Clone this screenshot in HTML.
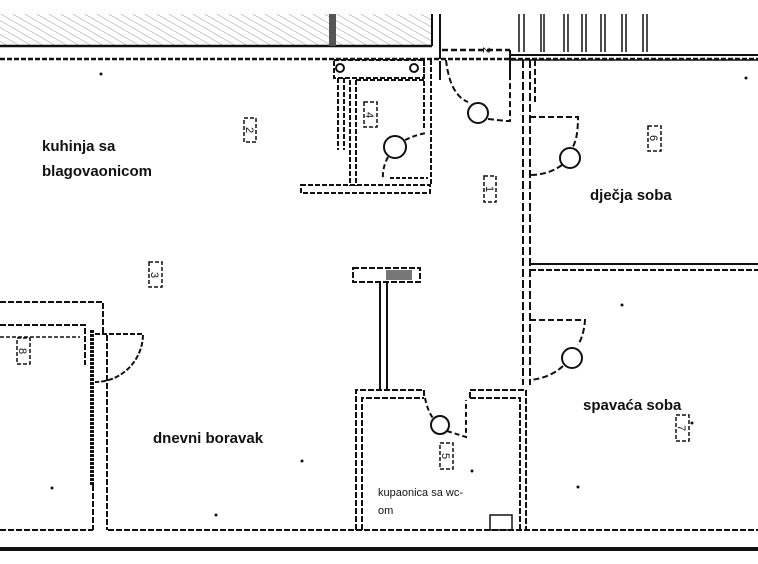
<!DOCTYPE html>
<html><head><meta charset="utf-8"><style>
html,body{margin:0;padding:0;background:#fff}
svg{display:block}
text{font-family:"Liberation Sans",sans-serif;fill:#111}
.lbl{font-size:15px;font-weight:bold}
</style></head><body>
<svg width="758" height="564" viewBox="0 0 758 564" xmlns="http://www.w3.org/2000/svg">
<defs>
<pattern id="h" width="6" height="6" patternUnits="userSpaceOnUse" patternTransform="rotate(-60)">
<line x1="0" y1="0" x2="0" y2="6" stroke="#999" stroke-width="1"/></pattern>
</defs>
<g fill="none" stroke="#111" stroke-width="2">
<!-- top hatched band -->
<rect x="0" y="14" width="432" height="32" fill="url(#h)" stroke="none"/>
<line x1="0" y1="46" x2="432" y2="46" stroke-width="2.5"/>
<line x1="432" y1="14" x2="432" y2="46"/>
<rect x="329" y="14" width="7" height="32" fill="#555" stroke="none"/>
<line x1="0" y1="59" x2="758" y2="59" stroke-dasharray="5,2" stroke-width="2.5"/>
<line x1="440" y1="14" x2="440" y2="59"/>
<line x1="440" y1="61" x2="440" y2="80"/>
<line x1="442" y1="50" x2="510" y2="50" stroke-dasharray="6,3" stroke-width="2.5"/>
<line x1="510" y1="55" x2="758" y2="55"/>
<line x1="510" y1="60" x2="758" y2="60" stroke-width="1.5"/>
<line x1="510" y1="50" x2="510" y2="80"/>
<g stroke-width="1.5">
<line x1="519" y1="14" x2="519" y2="52"/><line x1="524" y1="14" x2="524" y2="52"/>
<line x1="541" y1="14" x2="541" y2="52"/><line x1="544" y1="14" x2="544" y2="52"/>
<line x1="564" y1="14" x2="564" y2="52"/><line x1="568" y1="14" x2="568" y2="52"/>
<line x1="582" y1="14" x2="582" y2="52"/><line x1="586" y1="14" x2="586" y2="52"/>
<line x1="601" y1="14" x2="601" y2="52"/><line x1="605" y1="14" x2="605" y2="52"/>
<line x1="622" y1="14" x2="622" y2="52"/><line x1="626" y1="14" x2="626" y2="52"/>
<line x1="643" y1="14" x2="643" y2="52"/><line x1="647" y1="14" x2="647" y2="52"/>
</g>
<!-- shaft / room 4 -->
<rect x="334" y="60" width="90" height="18" stroke-dasharray="5,2"/>
<circle cx="340" cy="68" r="4"/><circle cx="414" cy="68" r="4"/>
<line x1="338" y1="78" x2="338" y2="150" stroke-dasharray="5,2"/>
<line x1="344" y1="78" x2="344" y2="150" stroke-dasharray="5,2"/>
<line x1="350" y1="80" x2="350" y2="186" stroke-dasharray="5,2"/>
<line x1="356" y1="80" x2="356" y2="186" stroke-dasharray="5,2"/>
<line x1="356" y1="80" x2="424" y2="80" stroke-dasharray="5,2"/>
<line x1="424" y1="60" x2="424" y2="130" stroke-dasharray="5,2"/>
<line x1="431" y1="60" x2="431" y2="185" stroke-dasharray="5,2"/>
<rect x="301" y="185" width="129" height="8" stroke-dasharray="5,2"/>
<circle cx="395" cy="147" r="11"/>
<path d="M405 140 Q418 134 427 133" stroke-dasharray="5,3"/>
<path d="M388 157 Q382 168 383 180" stroke-dasharray="5,3"/>
<line x1="390" y1="178" x2="428" y2="178" stroke-dasharray="4,2"/>
<!-- hallway door top -->
<path d="M446 60 Q450 95 468 102" stroke-dasharray="6,3"/>
<circle cx="478" cy="113" r="10"/>
<path d="M488 119 L506 121 L510 121 L510 60" stroke-dasharray="6,3"/>
<!-- hallway right walls -->
<line x1="523" y1="60" x2="523" y2="385" stroke-dasharray="8,3"/>
<line x1="530" y1="60" x2="530" y2="385" stroke-dasharray="8,3"/>
<line x1="535" y1="60" x2="535" y2="103" stroke-dasharray="6,3"/>
<path d="M530 117 L578 117 Q578 140 572 148" stroke-dasharray="6,3"/>
<circle cx="570" cy="158" r="10"/>
<path d="M562 165 Q548 175 530 175" stroke-dasharray="6,3"/>
<line x1="530" y1="264" x2="758" y2="264"/>
<line x1="530" y1="270" x2="758" y2="270" stroke-dasharray="6,2"/>
<path d="M530 320 L585 320 Q584 335 578 345" stroke-dasharray="6,3"/>
<circle cx="572" cy="358" r="10"/>
<path d="M563 366 Q550 378 530 380" stroke-dasharray="6,3"/>
<!-- bar -->
<rect x="353" y="268" width="67" height="14" stroke-dasharray="6,2"/>
<rect x="386" y="270" width="26" height="10" fill="#777" stroke="none"/>
<line x1="380" y1="282" x2="380" y2="390"/><line x1="387" y1="282" x2="387" y2="390"/>
<!-- bathroom -->
<path d="M356 530 L356 390 L424 390 L424 398" stroke-dasharray="6,2"/>
<path d="M362 530 L362 398 L424 398" stroke-dasharray="6,2"/>
<path d="M470 398 L470 390 L526 390 L526 530" stroke-dasharray="6,2"/>
<path d="M470 398 L520 398 L520 530" stroke-dasharray="6,2"/>
<path d="M425 398 Q428 412 433 418" stroke-dasharray="5,3"/>
<circle cx="440" cy="425" r="9"/>
<path d="M447 431 L466 437 L466 400" stroke-dasharray="5,3"/>
<rect x="490" y="515" width="22" height="15" stroke-width="1.5"/>
<!-- bottom -->
<line x1="0" y1="530" x2="93" y2="530" stroke-dasharray="6,2"/>
<line x1="108" y1="530" x2="758" y2="530" stroke-dasharray="6,2"/>
<line x1="0" y1="549" x2="758" y2="549" stroke-width="4"/>
<!-- left room 8 -->
<path d="M0 302 L103 302 L103 335" stroke-dasharray="6,2"/>
<path d="M0 325 L85 325 L85 365" stroke-dasharray="6,2"/>
<path d="M0 337 L80 337" stroke-dasharray="4,2" stroke-width="1.5"/>
<line x1="92" y1="330" x2="92" y2="485" stroke-width="4" stroke-dasharray="3,1"/>
<line x1="107" y1="335" x2="107" y2="530" stroke-dasharray="6,2"/>
<line x1="93" y1="485" x2="93" y2="530" stroke-dasharray="6,2"/>
<path d="M95 334 L143 334 A48 48 0 0 1 95 382" stroke-dasharray="5,2"/>
<!-- number boxes -->
<rect x="244" y="118" width="12" height="24" stroke-width="1.5" stroke-dasharray="4,2"/>
<rect x="364" y="102" width="13" height="25" stroke-width="1.5" stroke-dasharray="4,2"/>
<rect x="484" y="176" width="12" height="26" stroke-width="1.5" stroke-dasharray="4,2"/>
<rect x="648" y="126" width="13" height="25" stroke-width="1.5" stroke-dasharray="4,2"/>
<rect x="149" y="262" width="13" height="25" stroke-width="1.5" stroke-dasharray="4,2"/>
<rect x="17" y="338" width="13" height="26" stroke-width="1.5" stroke-dasharray="4,2"/>
<rect x="440" y="443" width="13" height="26" stroke-width="1.5" stroke-dasharray="4,2"/>
<rect x="676" y="415" width="13" height="26" stroke-width="1.5" stroke-dasharray="4,2"/>
</g>
<g font-size="11" font-family="Liberation Sans">
<text x="250" y="130" transform="rotate(90 250 130)" text-anchor="middle" dy="4">2</text>
<text x="370" y="115" transform="rotate(90 370 115)" text-anchor="middle" dy="4">4</text>
<text x="490" y="189" transform="rotate(90 490 189)" text-anchor="middle" dy="4">1</text>
<text x="654" y="138" transform="rotate(90 654 138)" text-anchor="middle" dy="4">6</text>
<text x="155" y="275" transform="rotate(90 155 275)" text-anchor="middle" dy="4">3</text>
<text x="23" y="351" transform="rotate(90 23 351)" text-anchor="middle" dy="4">8</text>
<text x="446" y="456" transform="rotate(90 446 456)" text-anchor="middle" dy="4">5</text>
<text x="682" y="428" transform="rotate(90 682 428)" text-anchor="middle" dy="4">7</text>
<text x="487" y="50" transform="rotate(90 487 50)" text-anchor="middle" dy="4">2</text>
</g>
<text class="lbl" x="42" y="151">kuhinja sa</text>
<text class="lbl" x="42" y="176">blagovaonicom</text>
<text class="lbl" x="590" y="200">dječja soba</text>
<text class="lbl" x="583" y="410">spavaća soba</text>
<text class="lbl" x="153" y="443">dnevni boravak</text>
<text x="378" y="496" font-size="11">kupaonica sa wc-</text>
<text x="378" y="514" font-size="11">om</text>
<g fill="#111">
<circle cx="101" cy="74" r="1.5"/><circle cx="746" cy="78" r="1.5"/><circle cx="302" cy="461" r="1.5"/>
<circle cx="52" cy="488" r="1.5"/><circle cx="472" cy="471" r="1.5"/><circle cx="622" cy="305" r="1.5"/>
<circle cx="692" cy="423" r="1.5"/><circle cx="578" cy="487" r="1.5"/><circle cx="216" cy="515" r="1.5"/>
</g>
</svg>
</body></html>
